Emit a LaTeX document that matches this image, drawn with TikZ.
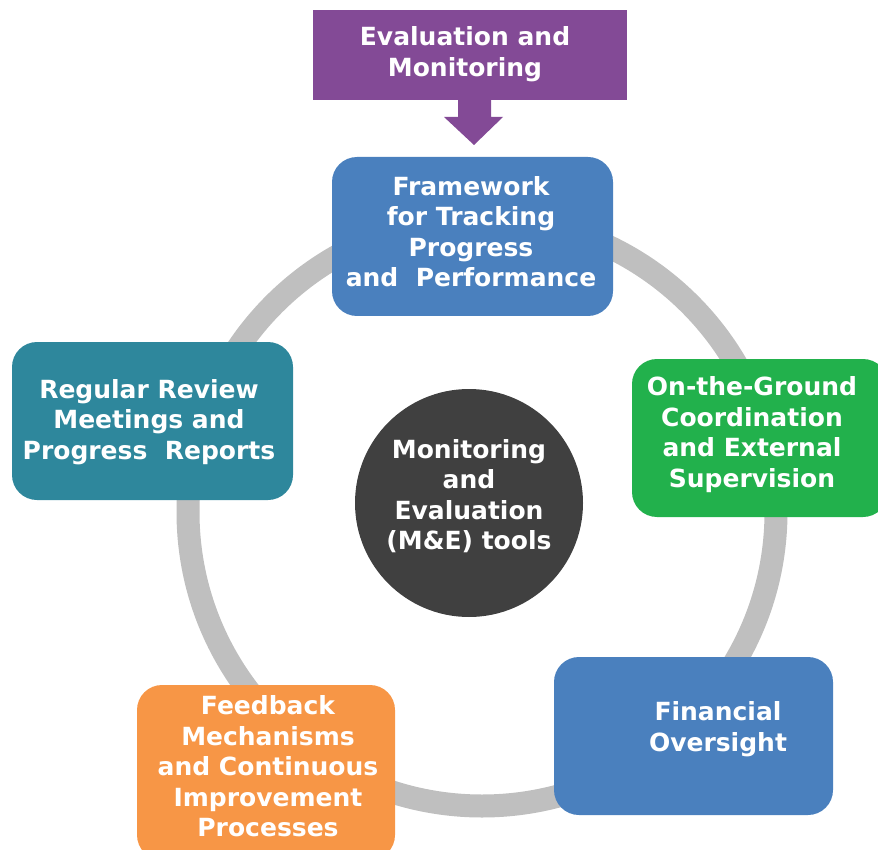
\documentclass[tikz,border=0pt]{standalone}
\usepackage{fontspec}
\setmainfont{DejaVu Sans}
\definecolor{cpurple}{RGB}{131,74,150}
\definecolor{cblue}{RGB}{74,128,190}
\definecolor{cgreen}{RGB}{34,177,76}
\definecolor{cteal}{RGB}{46,135,156}
\definecolor{corange}{RGB}{247,150,70}
\definecolor{cdark}{RGB}{64,64,64}
\definecolor{cring}{RGB}{191,191,191}
\begin{document}
\begin{tikzpicture}[x=1pt,y=-1pt,
  boxshape/.style={rectangle, rounded corners=25pt, inner sep=0pt, draw=none},
  lbl/.style={text=white, font=\bfseries\fontsize{25}{30.5}\selectfont, align=center, inner sep=0pt},
  ringline/.style={draw=cring, line width=23pt}]
\useasboundingbox (0,0) rectangle (878,850);
\clip (0,0) rectangle (878,850);
% ring
\draw[ringline] (482,512) circle[radius=294pt];
% top banner
\node[rectangle, fill=cpurple, minimum width=314pt, minimum height=90pt, inner sep=0pt] (ev) at (470,55) {};
\node[lbl] (evt) at (465,54) {Evaluation and\\Monitoring};
\coordinate (arrtip) at (474,145);
\fill[cpurple] (458,99) -- (491,99) -- (491,117) -- (503,117) -- (arrtip) -- (444,117) -- (458,117) -- cycle;
% framework
\node[boxshape, fill=cblue, minimum width=281pt, minimum height=159pt] (fw) at (472.5,236.5) {};
\node[lbl] (fwt) at (471,231.5) {Framework\\for Tracking\\Progress\\and~~Performance};
% green
\node[boxshape, fill=cgreen, minimum width=256pt, minimum height=158pt] (og) at (760,438) {};
\node[lbl] (ogt) at (752,434.5) {On-the-Ground\\Coordination\\and External\\Supervision};
% financial
\node[boxshape, fill=cblue, minimum width=279pt, minimum height=158pt] (fo) at (693.5,736) {};
\node[lbl] (fot) at (718,729) {Financial\\Oversight};
% orange
\node[boxshape, fill=corange, minimum width=258pt, minimum height=175pt] (fb) at (266,772.5) {};
\node[lbl] (fbt) at (268,766.5) {Feedback\\Mechanisms\\and Continuous\\Improvement\\Processes};
% teal
\node[boxshape, fill=cteal, minimum width=281pt, minimum height=158pt] (rr) at (152.5,421) {};
\node[lbl] (rrt) at (149,422) {Regular Review\\Meetings and\\Progress~~Reports};
% centre
\node[circle, fill=cdark, minimum size=228pt, inner sep=0pt] (me) at (469,503) {};
\node[lbl] (met) at (469,496) {Monitoring\\and\\Evaluation\\(M\&E) tools};
\end{tikzpicture}
\end{document}
